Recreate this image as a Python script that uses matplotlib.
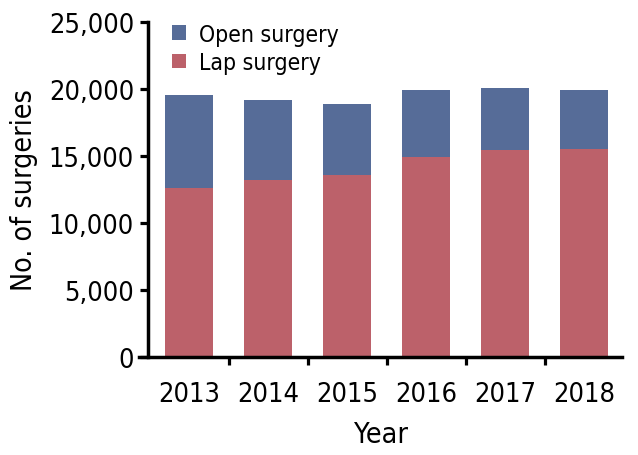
import numpy as np
import matplotlib.pyplot as plt
from matplotlib.ticker import FuncFormatter

plt.rcParams['font.family'] = ['DejaVu Sans']
plt.rcParams['font.stretch'] = 'condensed'

years = ['2013', '2014', '2015', '2016', '2017', '2018']
lap = np.array([12600, 13200, 13580, 14930, 15450, 15520])
open_ = np.array([6950, 5980, 5300, 5000, 4620, 4410])

blue = '#566c98'
red = '#bc616a'

fig = plt.figure(figsize=(6.38, 4.56), dpi=100)
ax = fig.add_axes([139 / 638, 1 - 358 / 456, 483 / 638, 335 / 456])

x = np.arange(len(years))
ax.bar(x, lap, width=0.61, color=red, label='Lap surgery')
ax.bar(x, open_, width=0.61, bottom=lap, color=blue, label='Open surgery')

ax.set_xlim(-0.633, 5.48)
ax.set_ylim(0, 25000)
ax.set_yticks(np.arange(0, 25001, 5000))
ax.yaxis.set_major_formatter(FuncFormatter(lambda v, p: f'{int(v):,}'))

ax.set_xticks(x)
ax.set_xticklabels(years)
ax.set_xticks(np.arange(0.5, 5, 1), minor=True)
ax.tick_params(axis='x', which='major', length=0, labelsize=19.5, pad=17)
ax.tick_params(axis='x', which='minor', length=6, width=2.3, direction='out')
ax.tick_params(axis='y', length=6, width=2.3, labelsize=19.5, pad=4)

for s in ['top', 'right']:
    ax.spines[s].set_visible(False)
ax.spines['left'].set_position(('data', -0.52))
ax.spines['left'].set_linewidth(2.5)
ax.spines['bottom'].set_linewidth(2.5)

ax.set_xlabel('Year', fontsize=20.5, labelpad=10)
ax.set_ylabel('No. of surgeries', fontsize=20.5, labelpad=8)

h, l = ax.get_legend_handles_labels()
ax.legend(h[::-1], l[::-1], loc='upper left', bbox_to_anchor=(0.035, 1.045), frameon=False,
          fontsize=16.5, handlelength=0.62, handleheight=0.62, handletextpad=0.55,
          labelspacing=0.22, borderpad=0.2)

fig.savefig('out.png', dpi=100)
